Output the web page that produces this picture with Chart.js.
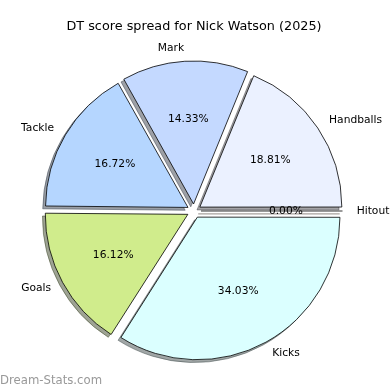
<!DOCTYPE html>
<html>
<head>
<meta charset="utf-8">
<script src="https://cdn.jsdelivr.net/npm/chart.js@4.4.1/dist/chart.umd.min.js"></script>
<style>
  html, body { margin: 0; padding: 0; background: #fff; }
  #wrap { width: 390px; height: 390px; }
</style>
</head>
<body>
<div id="wrap"><canvas id="chart" width="390" height="390"></canvas></div>
<script>
// Slices listed counter-clockwise from 3 o'clock, like the source pie
const categories = ['Handballs', 'Mark', 'Tackle', 'Goals', 'Kicks', 'Hitout'];
const shares = [18.81, 14.33, 16.72, 16.12, 34.03, 0.00];
const sliceColors = ['#ebf1ff', '#c4d9ff', '#b5d6ff', '#d0ec8c', '#dbffff', '#ffe4c4'];

const TITLE = 'DT score spread for Nick Watson (2025)';
const WATERMARK = 'Dream-Stats.com';
const FONT = '"DejaVu Sans", Verdana, sans-serif';

const RADIUS = 141.5;
const EXPLODE = 7;     // px each wedge is pushed out
const SHADOW = 2.8;    // px shadow shift (left / down)

// Chart.js goes clockwise, so feed the slices in reverse
const order = categories.map((_, i) => i).reverse();
const labels = order.map(i => categories[i]);
const values = order.map(i => shares[i]);
const colors = order.map(i => sliceColors[i]);

function shadeOf(hex) {
  const n = parseInt(hex.slice(1), 16);
  const r = Math.round(((n >> 16) & 255) * 0.3);
  const g = Math.round(((n >> 8) & 255) * 0.3);
  const b = Math.round((n & 255) * 0.3);
  return `rgba(${r},${g},${b},0.5)`;
}

// a zero-size wedge still shows as a single edge line
function drawSpoke(ctx, arc, color, width) {
  const a = arc.startAngle;
  const x0 = arc.x + Math.cos(a) * EXPLODE;
  const y0 = arc.y + Math.sin(a) * EXPLODE;
  ctx.beginPath();
  ctx.moveTo(x0, y0);
  ctx.lineTo(x0 + Math.cos(a) * RADIUS, y0 + Math.sin(a) * RADIUS);
  ctx.strokeStyle = color;
  ctx.lineWidth = width;
  ctx.stroke();
}

const piePlugin = {
  id: 'mplPie',
  beforeDatasetsDraw(chart) {
    const { ctx } = chart;
    const arcs = chart.getDatasetMeta(0).data;
    ctx.save();
    ctx.translate(-SHADOW, SHADOW);
    arcs.forEach((arc, i) => {
      const col = shadeOf(colors[i]);
      if (arc.circumference === 0) {
        drawSpoke(ctx, arc, col, 1.2);
        return;
      }
      const ghost = Object.create(arc);
      ghost.options = Object.assign({}, arc.options, { backgroundColor: col, borderColor: col, borderWidth: 1 });
      ghost.draw(ctx);
    });
    ctx.restore();
  },
  afterDatasetsDraw(chart) {
    const { ctx } = chart;
    const arcs = chart.getDatasetMeta(0).data;
    ctx.save();
    arcs.forEach(arc => { if (arc.circumference === 0) drawSpoke(ctx, arc, '#000', 0.8); });

    ctx.fillStyle = '#000';
    ctx.font = `10.7px ${FONT}`;
    ctx.textBaseline = 'middle';
    arcs.forEach((arc, i) => {
      const mid = (arc.startAngle + arc.endAngle) / 2;
      const cx = arc.x + Math.cos(mid) * EXPLODE;
      const cy = arc.y + Math.sin(mid) * EXPLODE;
      ctx.textAlign = Math.cos(mid) > 0 ? 'left' : 'right';
      ctx.fillText(labels[i], cx + Math.cos(mid) * RADIUS * 1.1, cy + Math.sin(mid) * RADIUS * 1.1);
      ctx.textAlign = 'center';
      ctx.fillText(values[i].toFixed(2) + '%', cx + Math.cos(mid) * RADIUS * 0.6, cy + Math.sin(mid) * RADIUS * 0.6);
    });

    ctx.textBaseline = 'alphabetic';
    ctx.textAlign = 'center';
    ctx.font = `12.8px ${FONT}`;
    ctx.fillText(TITLE, 194, 30);

    ctx.textAlign = 'left';
    ctx.font = `11.7px ${FONT}`;
    ctx.fillStyle = '#999';
    ctx.fillText(WATERMARK, 0, 384);
    ctx.restore();
  }
};

new Chart(document.getElementById('chart'), {
  type: 'pie',
  data: {
    labels,
    datasets: [{
      data: values,
      backgroundColor: colors,
      borderColor: '#000',
      borderWidth: 0.8,
      borderJoinStyle: 'miter',
      offset: EXPLODE * 4,
      radius: RADIUS,
      rotation: 90
    }]
  },
  options: {
    responsive: false,
    animation: false,
    events: [],
    layout: { padding: { left: 40, right: 42, top: 71, bottom: 39 } },
    plugins: {
      legend: { display: false },
      title: { display: false },
      tooltip: { enabled: false }
    }
  },
  plugins: [piePlugin]
});
</script>
</body>
</html>
